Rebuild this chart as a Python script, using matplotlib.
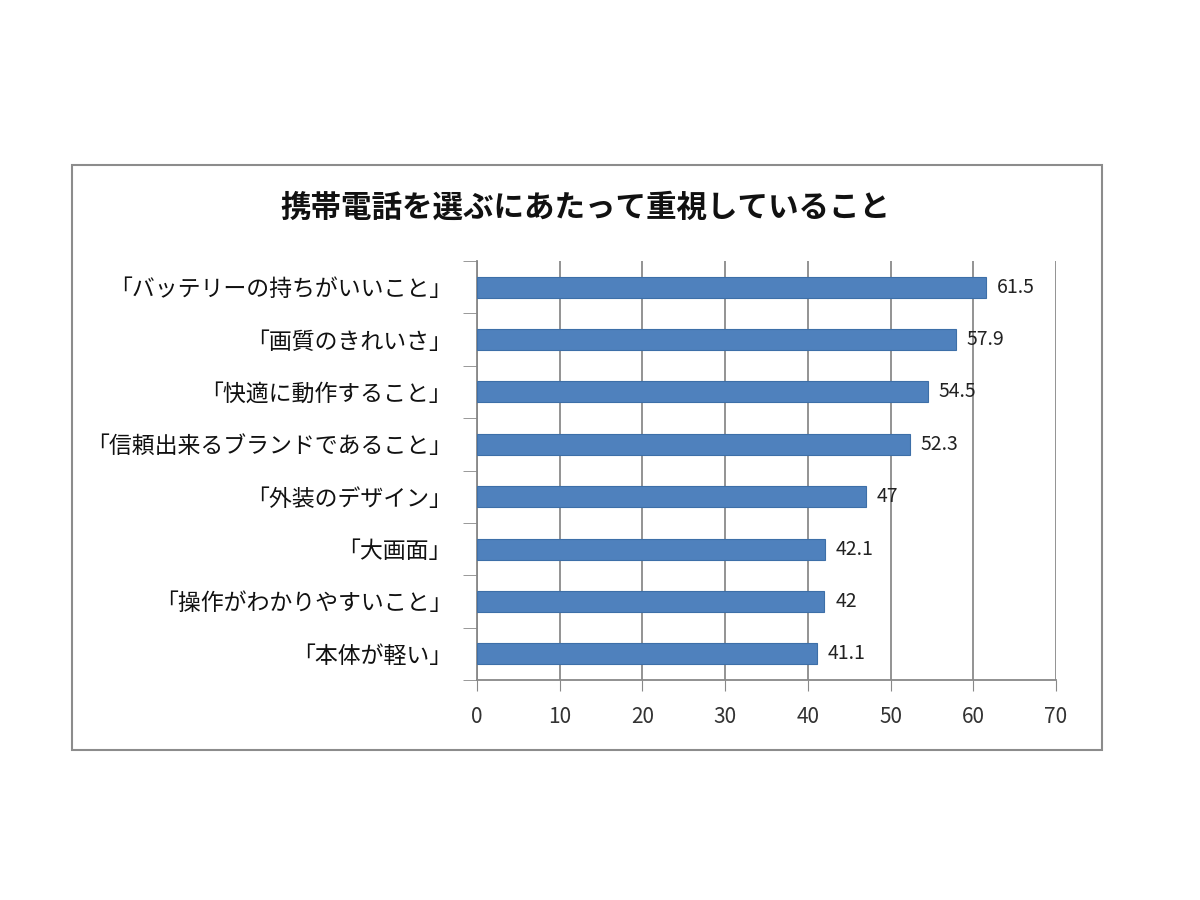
import matplotlib
matplotlib.use("Agg")
import matplotlib.pyplot as plt
from matplotlib.patches import Rectangle

plt.rcParams['font.family'] = ['Noto Sans CJK JP', 'DejaVu Sans']

title = "携帯電話を選ぶにあたって重視していること"
categories = ["「バッテリーの持ちがいいこと」", "「画質のきれいさ」", "「快適に動作すること」",
              "「信頼出来るブランドであること」", "「外装のデザイン」", "「大画面」",
              "「操作がわかりやすいこと」", "「本体が軽い」"]
values = [61.5, 57.9, 54.5, 52.3, 47, 42.1, 42, 41.1]
value_labels = ["61.5", "57.9", "54.5", "52.3", "47", "42.1", "42", "41.1"]
xticks = [0, 10, 20, 30, 40, 50, 60, 70]

fig = plt.figure(figsize=(12, 9), dpi=100)
fig.patch.set_facecolor('white')

# outer chart frame
fig.patches.append(Rectangle((72/1200, 1-750/900), (1102-72)/1200, (750-165)/900,
                             transform=fig.transFigure, fill=False,
                             edgecolor='#8c8c8c', linewidth=1.5))

ax = fig.add_axes([477/1200, 1-680/900, (1056-477)/1200, (680-261)/900])
n = len(categories)
ypos = list(range(n))
ax.barh(ypos, values, height=0.4, color='#4F81BD', edgecolor='#3d6fa8', linewidth=0.8, zorder=3)
ax.set_ylim(n-0.5, -0.5)
ax.set_xlim(0, 70)
ax.set_xticks(xticks)
ax.set_xticklabels([str(t) for t in xticks], fontsize=15, color='#333333')
ax.set_yticks(ypos)
ax.set_yticklabels(categories, fontsize=16.5, color='#111111')
ax.tick_params(axis='y', length=0, pad=18)
ax.set_yticks([i-0.5 for i in range(n+1)], minor=True)
ax.tick_params(axis='y', which='minor', length=10, color='#888888', direction='out')
ax.tick_params(axis='x', length=8, color='#888888', direction='out', pad=11)
ax.grid(axis='x', color='#8a8a8a', linewidth=1.3, zorder=0)
for s in ['top', 'right']:
    ax.spines[s].set_visible(False)
for s in ['left', 'bottom']:
    ax.spines[s].set_color('#888888')
    ax.spines[s].set_linewidth(1.3)

for i, (v, lab) in enumerate(zip(values, value_labels)):
    ax.text(v + 1.3, i, lab, va='center', ha='left', fontsize=14, color='#222222', zorder=4)

fig.text(585/1200, 1-208/900, title, ha='center', va='center', fontsize=22,
         fontweight='bold', color='#111111')

fig.savefig('out.png', dpi=100)
